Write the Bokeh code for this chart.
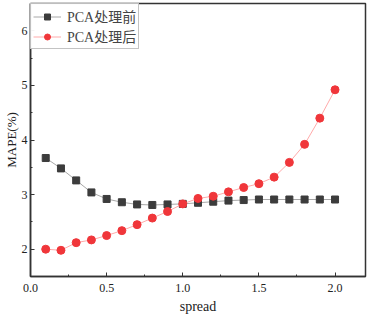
from bokeh.plotting import figure
from bokeh.embed import file_html
from bokeh.resources import INLINE
from bokeh.models import Range1d, NumeralTickFormatter, FixedTicker, Legend, LegendItem

spread = [0.1, 0.2, 0.3, 0.4, 0.5, 0.6, 0.7, 0.8, 0.9, 1.0,
          1.1, 1.2, 1.3, 1.4, 1.5, 1.6, 1.7, 1.8, 1.9, 2.0]
before = [3.67, 3.48, 3.26, 3.04, 2.92, 2.86, 2.82, 2.81, 2.82, 2.83,
          2.85, 2.87, 2.89, 2.90, 2.91, 2.91, 2.91, 2.91, 2.91, 2.91]
after = [2.00, 1.98, 2.12, 2.17, 2.25, 2.34, 2.45, 2.57, 2.69, 2.83,
         2.93, 2.97, 3.05, 3.13, 3.20, 3.32, 3.59, 3.92, 4.40, 4.92]
x_ticks = [0.0, 0.5, 1.0, 1.5, 2.0]
y_ticks = [2, 3, 4, 5, 6]

FONT = "Liberation Serif, Noto Sans CJK SC"

p = figure(output_backend="svg", toolbar_location=None,
           frame_width=335, frame_height=273,
           x_range=Range1d(0, 2.2), y_range=Range1d(1.5, 6.5),
           min_border_left=0, min_border_right=2, min_border_top=3, min_border_bottom=0)
p.xgrid.visible = False
p.ygrid.visible = False
p.outline_line_color = "#333333"
p.outline_line_width = 1.5

l1 = p.line(spread, before, line_color="#a8a8a8", line_width=1)
m1 = p.scatter(spread, before, marker="square", size=7, fill_color="#3c3c3c", line_color="#3c3c3c")
l2 = p.line(spread, after, line_color="#ffaaaa", line_width=1)
m2 = p.scatter(spread, after, marker="circle", size=8, fill_color="#f0363a", line_color="#f0363a")

for ax in (p.xaxis[0], p.yaxis[0]):
    ax.major_tick_in = 4
    ax.major_tick_out = 0
    ax.minor_tick_in = 2
    ax.minor_tick_out = 0
    ax.axis_line_color = "#333333"
    ax.axis_line_width = 1.5
    ax.major_tick_line_color = "#333333"
    ax.minor_tick_line_color = "#333333"
    ax.major_label_text_font = FONT
    ax.major_label_text_font_size = "12px"
    ax.major_label_text_color = "#222222"
    ax.axis_label_text_font = FONT
    ax.axis_label_text_font_size = "13px"
    ax.axis_label_text_font_style = "normal"
    ax.axis_label_text_color = "#222222"

p.xaxis[0].ticker = FixedTicker(ticks=x_ticks, minor_ticks=[0.25, 0.75, 1.25, 1.75])
p.yaxis[0].ticker = FixedTicker(ticks=y_ticks, minor_ticks=[2.5, 3.5, 4.5, 5.5])
p.xaxis[0].formatter = NumeralTickFormatter(format="0.0")
p.xaxis[0].axis_label = "spread"
p.xaxis[0].axis_label_text_font_size = "14px"
p.yaxis[0].axis_label = "MAPE(%)"
p.xaxis[0].major_label_standoff = 7
p.xaxis[0].axis_label_standoff = 4
p.yaxis[0].major_label_standoff = 3
p.yaxis[0].axis_label_standoff = 0

legend = Legend(items=[LegendItem(label="PCA处理前", renderers=[l1, m1]),
                       LegendItem(label="PCA处理后", renderers=[l2, m2])],
                location="top_left", margin=0, padding=2, spacing=0,
                label_text_font=FONT, label_text_font_size="14px",
                label_height=15, glyph_height=15, glyph_width=28,
                border_line_color="#888888", border_line_width=1,
                label_standoff=6)
p.add_layout(legend)

open("out.html", "w").write(file_html(p, INLINE))
